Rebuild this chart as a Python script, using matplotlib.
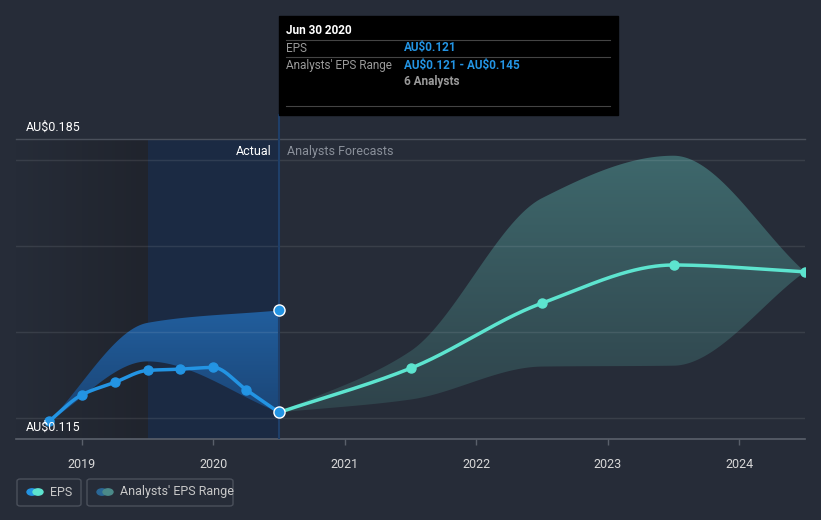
import matplotlib.pyplot as plt
from matplotlib.patches import FancyBboxPatch, Circle
import numpy as np

plt.rcParams['font.family'] = ['Roboto', 'DejaVu Sans']

# data
actual_x = [2018.75, 2019.0, 2019.25, 2019.5, 2019.75, 2020.0, 2020.25, 2020.5]
actual_eps = [0.1191, 0.1253, 0.1282, 0.1310, 0.1313, 0.1317, 0.1265, 0.1212]
actual_rng_x = [2018.75, 2019.5, 2020.5]
actual_low = [0.1191, 0.1331, 0.1212]
actual_high = [0.1191, 0.1421, 0.145]

fc_x = [2020.5, 2021.5, 2022.5, 2023.5, 2024.5]
fc_eps = [0.1212, 0.1315, 0.1467, 0.1556, 0.1540]
fc_low = [0.1212, 0.1242, 0.1319, 0.1321, 0.1540]
fc_high = [0.1212, 0.1355, 0.1712, 0.1811, 0.1540]

years = [2019, 2020, 2021, 2022, 2023, 2024]
grid_vals = [0.12, 0.14, 0.16, 0.18]

BG = '#262c38'
BLUE = '#2394e3'
CYAN = '#5de4cf'


def smooth(x, y, n=300):
    # monotone cubic hermite, only used for drawing the curve
    x = np.asarray(x, float)
    y = np.asarray(y, float)
    h = np.diff(x)
    d = np.diff(y) / h
    m = np.zeros_like(y)
    m[0], m[-1] = d[0], d[-1]
    for i in range(1, len(x) - 1):
        if d[i - 1] * d[i] > 0:
            w1 = 2 * h[i] + h[i - 1]
            w2 = h[i] + 2 * h[i - 1]
            m[i] = (w1 + w2) / (w1 / d[i - 1] + w2 / d[i])
    xs = np.linspace(x[0], x[-1], n)
    k = np.clip(np.searchsorted(x, xs) - 1, 0, len(x) - 2)
    t = (xs - x[k]) / h[k]
    h00 = 2 * t**3 - 3 * t**2 + 1
    h10 = t**3 - 2 * t**2 + t
    h01 = -2 * t**3 + 3 * t**2
    h11 = t**3 - t**2
    ys = h00 * y[k] + h10 * h[k] * m[k] + h01 * y[k + 1] + h11 * h[k] * m[k + 1]
    return xs, ys


def gradient_fill(ax, xs, lo, hi, c_top, c_bot, z):
    poly = ax.fill_between(xs, lo, hi, color='none', lw=0, zorder=z)
    grad = np.linspace(1, 0, 256).reshape(-1, 1)
    c1 = np.array(plt.matplotlib.colors.to_rgba(c_top))
    c2 = np.array(plt.matplotlib.colors.to_rgba(c_bot))
    img = c2 + (c1 - c2) * grad[..., None]
    img = img.reshape(256, 1, 4)
    im = ax.imshow(img, aspect='auto', extent=[xs[0], xs[-1], min(lo), max(hi)],
                   origin='upper', zorder=z)
    im.set_clip_path(poly.get_paths()[0], transform=ax.transData)


fig = plt.figure(figsize=(8.21, 5.20), dpi=100)
fig.patch.set_facecolor(BG)
W, H = 821, 520
ax = fig.add_axes([16 / W, 1 - 439 / H, (805 - 16) / W, (439 - 139) / H])
ax.set_facecolor(BG)

# past shading
sh = np.linspace(0, 1, 256).reshape(1, -1, 1)
c_a = np.array([38, 44, 56, 255]) / 255
c_b = np.array([32, 36, 45, 255]) / 255
ax.imshow(c_a + (c_b - c_a) * sh, aspect='auto', extent=[2018.5, 2019.5, 0.115, 0.185], zorder=0)
ax.axvspan(2019.5, 2020.5, color='#1b2a43', lw=0, zorder=0.5)
ax.set_xlim(2018.5, 2024.5)
ax.set_ylim(0.115, 0.185)

for g in grid_vals:
    ax.axhline(g, color='white', alpha=0.09, lw=1, zorder=2.2)
ax.axhline(0.185, color='#4a505b', lw=1, zorder=1, clip_on=False)
for s in ax.spines.values():
    s.set_visible(False)
ax.axhline(0.115, color='#5a606b', lw=1.2, zorder=1, clip_on=False)

# bands
xs, lo = smooth(actual_rng_x, actual_low)
_, hi = smooth(actual_rng_x, actual_high)
gradient_fill(ax, xs, lo, hi, '#215e9d', '#1b4474', 2)

xs, lo = smooth(fc_x, fc_low)
_, hi = smooth(fc_x, fc_high)
gradient_fill(ax, xs, lo, hi, '#3e686c', '#2f434b', 2)

ax.axvline(2020.5, color='#1f3f69', lw=1.5, zorder=2.5)

# lines
xs, ys = smooth(actual_x, actual_eps)
ax.plot(xs, ys, color=BLUE, lw=2.5, zorder=3, solid_capstyle='round')
ax.plot(actual_x, actual_eps, 'o', color=BLUE, ms=6.5, zorder=4)
xs, ys = smooth(fc_x, fc_eps)
ax.plot(xs, ys, color=CYAN, lw=2.5, zorder=3, solid_capstyle='round')
ax.plot(fc_x[1:], fc_eps[1:], 'o', color=CYAN, ms=6.5, zorder=4)
ax.plot([actual_x[-1]], [actual_eps[-1]], 'o', color=BLUE, mec='white', mew=1, ms=8, zorder=5)
ax.plot([actual_rng_x[-1]], [actual_high[-1]], 'o', color=BLUE, mec='white', mew=1, ms=8, zorder=5)

ax.set_xticks(years)
ax.set_xticklabels([str(y) for y in years])
ax.set_yticks([])
ax.tick_params(axis='x', colors='#d8d8d8', labelsize=9, length=4, width=1, pad=10)
ax.tick_params(axis='x', color='#5a606b')

ax.text(0.013, 0.1878, 'AU\\$0.185', transform=ax.get_yaxis_transform(), color='white',
        fontsize=9, va='center', ha='left')
ax.text(0.013, 0.1178, 'AU\\$0.115', transform=ax.get_yaxis_transform(), color='white',
        fontsize=9, va='center', ha='left', zorder=6)
ax.text(2020.44, 0.182, 'Actual', color='white', fontsize=9, ha='right', va='center')
ax.text(2020.56, 0.182, 'Analysts Forecasts', color='#8a909a', fontsize=9, ha='left', va='center')


def px(x, y):
    return x / W, 1 - y / H


# tooltip
fig.patches.append(plt.Rectangle(px(279, 115), (618 - 279) / W, (115 - 16) / H,
                                 transform=fig.transFigure, color='black', zorder=10))
fig.lines.append(plt.Line2D([279 / W, 279 / W], [1 - 139 / H, 1 - 115 / H],
                            transform=fig.transFigure, color='#1f3f69', lw=1.5))
for yy in [40, 57, 106]:
    fig.lines.append(plt.Line2D([286 / W, 610 / W], [1 - yy / H] * 2, transform=fig.transFigure,
                                color='#444444', lw=0.8, zorder=11))
fig.text(*px(286, 31), 'Jun 30 2020', color='white', fontsize=8.5, fontweight='bold',
         va='center', zorder=12)
fig.text(*px(286, 48), 'EPS', color='#9a9a9a', fontsize=8.5, va='center', zorder=12)
fig.text(*px(404, 48), 'AU\\$0.121', color=BLUE, fontsize=8.5, fontweight='bold', va='center', zorder=12)
fig.text(*px(286, 65), "Analysts' EPS Range", color='#9a9a9a', fontsize=8.5, va='center', zorder=12)
fig.text(*px(404, 65), 'AU\\$0.121 - AU\\$0.145', color=BLUE, fontsize=8.5, fontweight='bold',
         va='center', zorder=12)
fig.text(*px(404, 81), '6 Analysts', color='#9a9a9a', fontsize=8.5, fontweight='bold',
         va='center', zorder=12)

# legend
for x0, x1 in [(17, 81), (87, 233)]:
    fig.patches.append(FancyBboxPatch(px(x0, 506), (x1 - x0) / W, 27 / H,
                                      boxstyle='round,pad=0,rounding_size=0.004',
                                      transform=fig.transFigure, fc='none', ec='#4a505b', lw=1))
for cx, c in [(32, BLUE), (38, CYAN), (102, '#2a6796'), (108, '#4b8a89')]:
    fig.patches.append(Circle(px(cx, 492), 5 / W, transform=fig.transFigure, color=c))
fig.text(*px(50, 492), 'EPS', color='#c8c8c8', fontsize=9, va='center')
fig.text(*px(120, 492), "Analysts' EPS Range", color='#c8c8c8', fontsize=9, va='center')

fig.savefig('out.png', dpi=100, facecolor=BG)
